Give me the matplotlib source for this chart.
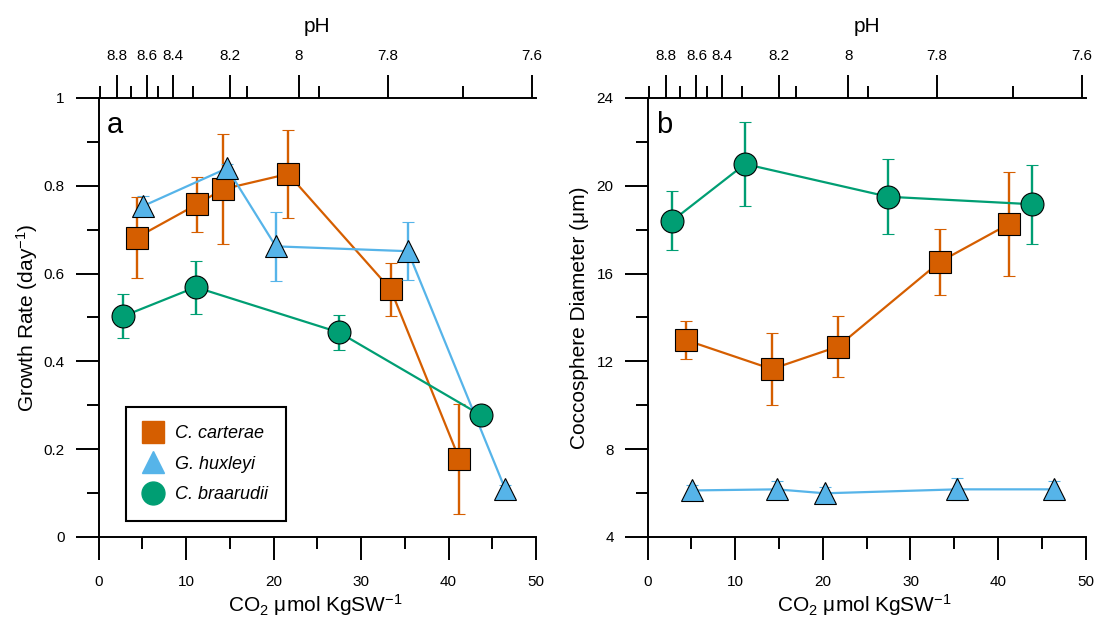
import matplotlib
matplotlib.use('Agg')
import matplotlib.pyplot as plt
from matplotlib.lines import Line2D
from matplotlib.ticker import FormatStrFormatter

plt.rcParams['font.family'] = ['Liberation Sans', 'DejaVu Sans']
plt.rcParams['mathtext.fontset'] = 'custom'
plt.rcParams['mathtext.rm'] = 'Liberation Sans'
plt.rcParams['mathtext.it'] = 'Liberation Sans:italic'

# pH scale on the top axis, placed at the matching CO2 values
ph_labels = ['8.8', '8.6', '8.4', '8.2', '8', '7.8', '7.6']
ph_major_co2 = [2.07, 5.57, 8.46, 15.02, 22.91, 33.04, 49.53]
ph_minor_co2 = [0.2, 3.7, 6.8, 10.74, 16.95, 25.15, 41.65]

species = ['C. carterae', 'G. huxleyi', 'C. braarudii']

# (a) growth rate
cc_co2_a = [4.36, 11.28, 14.18, 21.67, 33.39, 41.23]
cc_rate = [0.682, 0.758, 0.792, 0.827, 0.564, 0.178]
cc_rate_err = [0.092, 0.063, 0.125, 0.100, 0.060, 0.125]

gh_co2_a = [5.11, 14.70, 20.26, 35.36, 46.48]
gh_rate = [0.754, 0.840, 0.662, 0.651, 0.109]
gh_rate_err = [0.022, 0.010, 0.078, 0.066, 0.010]

cb_co2_a = [2.83, 11.10, 27.49, 43.74]
cb_rate = [0.503, 0.569, 0.466, 0.277]
cb_rate_err = [0.050, 0.060, 0.040, 0.010]

# (b) coccosphere diameter
cc_co2_b = [4.37, 14.16, 21.69, 33.37, 41.24]
cc_diam = [12.97, 11.65, 12.67, 16.54, 18.26]
cc_diam_err = [0.85, 1.64, 1.38, 1.50, 2.37]

gh_co2_b = [5.09, 14.73, 20.24, 35.34, 46.42]
gh_diam = [6.12, 6.17, 5.99, 6.17, 6.17]
gh_diam_err = [0.25, 0.40, 0.30, 0.50, 0.40]

cb_co2_b = [2.81, 11.11, 27.47, 43.84]
cb_diam = [18.41, 20.99, 19.50, 19.16]
cb_diam_err = [1.34, 1.90, 1.70, 1.80]

orange = '#D55E00'
blue = '#56B4E9'
green = '#009E73'
LW = 1.4


def trace(ax, x, y, err, color, marker, ms, z):
    ax.errorbar(x, y, yerr=err, color=color, lw=1.6, marker=marker, ms=ms,
                mfc=color, mec='black', mew=0.8, ecolor=color,
                elinewidth=1.7, capsize=4, capthick=1.7, zorder=z)


def style_axes(ax, ylim, yticks, yminor, ylabel, letter):
    ax.set_xlim(0, 50)
    ax.set_ylim(*ylim)
    ax.set_xticks(range(0, 51, 10))
    ax.set_xticks(range(5, 50, 10), minor=True)
    ax.set_yticks(yticks)
    ax.set_yticks(yminor, minor=True)
    ax.yaxis.set_major_formatter(FormatStrFormatter('%g'))
    ax.spines['right'].set_visible(False)
    ax.spines['top'].set_visible(False)
    for s in ax.spines.values():
        s.set_linewidth(LW)
    ax.tick_params(which='both', direction='out', width=LW, labelsize=11)
    ax.tick_params(which='major', length=16.5)
    ax.tick_params(which='minor', length=8.5)
    ax.tick_params(axis='x', pad=11)
    ax.tick_params(axis='y', pad=8)
    ax.set_xlabel('CO$_2$ μmol KgSW$^{-1}$', fontsize=15)
    ax.xaxis.set_label_coords(0.495, -0.125)
    ax.set_ylabel(ylabel, fontsize=15)
    ax.yaxis.set_label_coords(-0.133, 0.5)
    ax.text(0.019, 0.92, letter, transform=ax.transAxes, fontsize=21,
            va='baseline', ha='left')

    # pH axis along the top
    top = ax.twiny()
    top.set_xlim(0, 50)
    for side in ['left', 'right', 'bottom']:
        top.spines[side].set_visible(False)
    top.spines['top'].set_linewidth(LW)
    top.set_xticks(ph_major_co2, ph_labels)
    top.set_xticks(ph_minor_co2, minor=True)
    top.tick_params(which='both', direction='out', width=LW, labelsize=11, pad=9)
    top.tick_params(which='major', length=16.5)
    top.tick_params(which='minor', length=8.5)
    top.set_xlabel('pH', fontsize=15)
    top.xaxis.set_label_coords(0.5, 1.15)
    return top


fig = plt.figure(figsize=(10.95, 6.17), dpi=100)
ax_a = fig.add_axes([0.09, 0.1297, 0.3995, 0.7115])
ax_b = fig.add_axes([0.5915, 0.1297, 0.4, 0.7115])

top_a = style_axes(ax_a, (0, 1), [0, 0.2, 0.4, 0.6, 0.8, 1],
                   [0.1, 0.3, 0.5, 0.7, 0.9], 'Growth Rate (day$^{-1}$)', 'a')
top_b = style_axes(ax_b, (4, 24), [4, 8, 12, 16, 20, 24],
                   [6, 10, 14, 18, 22], 'Coccosphere Diameter (μm)', 'b')

trace(ax_a, cc_co2_a, cc_rate, cc_rate_err, orange, 's', 16.5, 3)
trace(ax_a, gh_co2_a, gh_rate, gh_rate_err, blue, '^', 16, 4)
trace(ax_a, cb_co2_a, cb_rate, cb_rate_err, green, 'o', 16.5, 5)

trace(ax_b, cc_co2_b, cc_diam, cc_diam_err, orange, 's', 16.5, 3)
trace(ax_b, gh_co2_b, gh_diam, gh_diam_err, blue, '^', 16, 4)
trace(ax_b, cb_co2_b, cb_diam, cb_diam_err, green, 'o', 16.5, 5)

handles = [
    Line2D([], [], ls='none', marker='s', ms=16.5, mfc=orange, mec=orange, label=species[0]),
    Line2D([], [], ls='none', marker='^', ms=16, mfc=blue, mec=blue, label=species[1]),
    Line2D([], [], ls='none', marker='o', ms=16.5, mfc=green, mec=green, label=species[2]),
]
# legend goes on the twin axes so it sits above the traces
leg = top_a.legend(handles=handles, loc='lower left', bbox_to_anchor=(0.063, 0.036),
                   borderaxespad=0, fancybox=False, edgecolor='black', framealpha=1,
                   prop={'style': 'italic', 'size': 13}, labelspacing=0.75,
                   handlelength=1.0, handletextpad=0.72, borderpad=1.0)
leg.get_frame().set_linewidth(1.5)

fig.savefig('out.png', dpi=100)
